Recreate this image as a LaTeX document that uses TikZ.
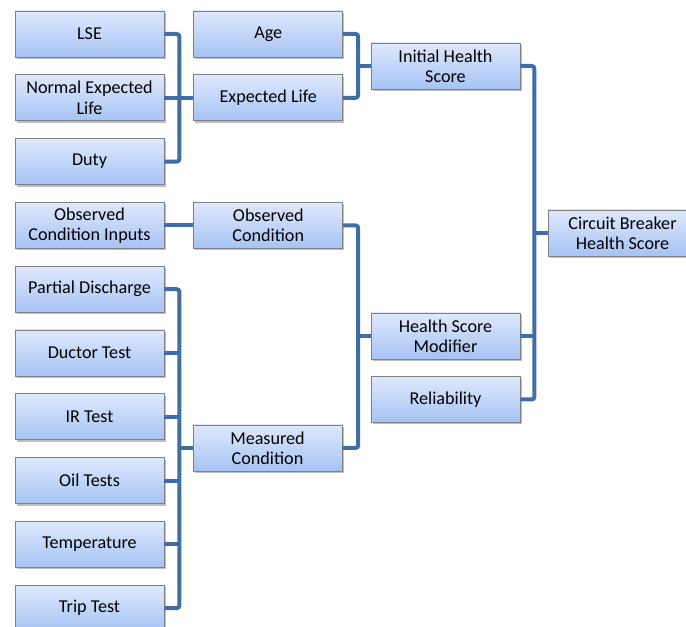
\documentclass[tikz,border=0pt]{standalone}
\usepackage{fontspec}
\setmainfont{Carlito}
\usetikzlibrary{positioning,shadows}
\definecolor{boxtop}{RGB}{223,232,252}
\definecolor{boxbot}{RGB}{166,195,244}
\definecolor{boxline}{RGB}{128,128,128}
\definecolor{linkblue}{RGB}{66,108,165}

\begin{document}
\begin{tikzpicture}[x=0.75pt,y=-0.75pt,node distance=12.75pt and 21.75pt,
    box/.style={draw=boxline, line width=0.6pt, top color=boxtop, bottom color=boxbot,
      minimum width=111.75pt, minimum height=34.5pt, inner sep=1pt, align=center,
      font=\fontsize{13.6}{15.3}\selectfont,
      drop shadow={shadow xshift=1.2pt, shadow yshift=-1.5pt, fill=black, opacity=0.25}},
    link/.style={draw=linkblue, line width=3pt, rounded corners=2pt}]

  \useasboundingbox (0,0) rectangle (686,627);

  % inputs
  \node[box] (lse) at (89.5,34) {LSE};
  \node[box, below=of lse]  (nel)  {Normal Expected\\Life};
  \node[box, below=of nel]  (duty) {Duty};
  \node[box, below=of duty] (oci)  {Observed\\Condition Inputs};
  \node[box, below=of oci]  (pd)   {Partial Discharge};
  \node[box, below=of pd]   (dt)   {Ductor Test};
  \node[box, below=of dt]   (ir)   {IR Test};
  \node[box, below=of ir]   (oil)  {Oil Tests};
  \node[box, below=of oil]  (temp) {Temperature};
  \node[box, below=of temp] (trip) {Trip Test};

  % second level
  \node[box, right=of lse] (age) {Age};
  \node[box, right=of nel] (el)  {Expected Life};
  \node[box, right=of oci] (oc)  {Observed\\Condition};
  \node[box] (mc) at (267.5,448) {Measured\\Condition};

  % third level
  \node[box] (ihs) at (445.5,66)    {Initial Health\\Score};
  \node[box] (hsm) at (445.5,336)   {Health Score\\Modifier};
  \node[box] (rel) at (445.5,399.5) {Reliability};

  % result
  \node[box] (cb) at (622.5,233) {Circuit Breaker\\Health Score};

  % connectors
  \draw[link] (lse.east) -- ++(11.25pt,0) |- (duty.east);
  \draw[link] (nel.east) -- (el.west);
  \draw[link] (oci.east) -- (oc.west);
  \draw[link] (pd.east) -- ++(11.25pt,0) |- (trip.east);
  \draw[link] (dt.east) -- ++(11.25pt,0);
  \draw[link] (ir.east) -- ++(11.25pt,0);
  \draw[link] (oil.east) -- ++(11.25pt,0);
  \draw[link] (temp.east) -- ++(11.25pt,0);
  \draw[link] (mc.west) -- ++(-11pt,0);

  \draw[link] (age.east) -- ++(11.25pt,0) |- (el.east);
  \draw[link] (ihs.west) -- ++(-11pt,0);
  \draw[link] (oc.east) -- ++(11.25pt,0) |- (mc.east);
  \draw[link] (hsm.west) -- ++(-11pt,0);

  \draw[link] (ihs.east) -- ++(10.5pt,0) |- (rel.east);
  \draw[link] (hsm.east) -- ++(10.5pt,0);
  \draw[link] (cb.west) -- ++(-10.5pt,0);
\end{tikzpicture}
\end{document}
